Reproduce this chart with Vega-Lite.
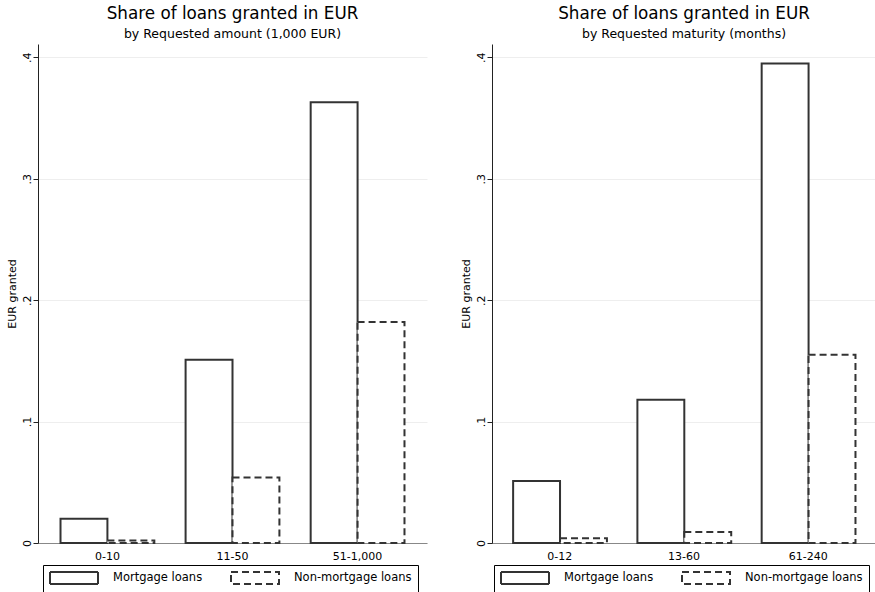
{
  "$schema": "https://vega.github.io/schema/vega-lite/v6.json",
  "padding": {"left": 6, "top": 5, "right": 0, "bottom": 0},
  "datasets": {
    "amount": [
      {"cat": "0-10", "series": "Mortgage loans", "value": 0.020},
      {"cat": "0-10", "series": "Non-mortgage loans", "value": 0.002},
      {"cat": "11-50", "series": "Mortgage loans", "value": 0.151},
      {"cat": "11-50", "series": "Non-mortgage loans", "value": 0.054},
      {"cat": "51-1,000", "series": "Mortgage loans", "value": 0.363},
      {"cat": "51-1,000", "series": "Non-mortgage loans", "value": 0.182}
    ],
    "maturity": [
      {"cat": "0-12", "series": "Mortgage loans", "value": 0.051},
      {"cat": "0-12", "series": "Non-mortgage loans", "value": 0.004},
      {"cat": "13-60", "series": "Mortgage loans", "value": 0.118},
      {"cat": "13-60", "series": "Non-mortgage loans", "value": 0.009},
      {"cat": "61-240", "series": "Mortgage loans", "value": 0.395},
      {"cat": "61-240", "series": "Non-mortgage loans", "value": 0.155}
    ]
  },
  "config": {
    "view": {"stroke": null},
    "font": "DejaVu Sans",
    "concat": {"spacing": 33},
    "title": {"fontSize": 16.8, "fontWeight": "normal", "subtitleFontSize": 12.5, "color": "#000", "subtitleColor": "#000", "anchor": "middle", "offset": 4, "subtitlePadding": 5, "font": "DejaVu Sans", "subtitleFont": "DejaVu Sans"},
    "axisX": {"title": null, "labelAngle": 0, "ticks": false, "domainColor": "#888", "labelFontSize": 11, "labelPadding": 7, "labelColor": "#000", "grid": false},
    "axisY": {"labelAngle": 270, "labelFontSize": 11, "labelColor": "#000", "labelPadding": 1, "tickSize": 5, "tickColor": "#222", "domainColor": "#222", "gridColor": "#eeeeee", "titleFontSize": 11, "titleFontWeight": "normal", "titleColor": "#000", "titlePadding": 4},
    "legend": {"orient": "none", "direction": "horizontal", "title": null, "strokeColor": "#000", "padding": 6, "symbolType": "M-4,-1H4V1H-4Z", "symbolSize": 144, "symbolOffset": 18, "symbolFillColor": "white", "symbolStrokeWidth": 2, "labelFontSize": 11.5, "labelOffset": 32, "columnPadding": 24, "labelColor": "#000"}
  },
  "hconcat": [
    {
      "width": 389,
      "height": 499,
      "data": {"name": "amount"},
      "title": {"text": "Share of loans granted in EUR", "subtitle": "by Requested amount (1,000 EUR)"},
      "mark": {"type": "bar", "fill": "white", "strokeWidth": 2},
      "encoding": {
        "x": {"field": "cat", "type": "nominal", "sort": ["0-10", "11-50", "51-1,000"], "scale": {"paddingInner": 0.25, "paddingOuter": 0.18}},
        "xOffset": {"field": "series", "type": "nominal", "scale": {"paddingInner": 0, "paddingOuter": 0}},
        "y": {"field": "value", "type": "quantitative", "scale": {"domain": [0, 0.411], "nice": false},
          "axis": {"title": "EUR granted", "values": [0, 0.1, 0.2, 0.3, 0.4], "labelExpr": "datum.value == 0 ? '0' : replace(format(datum.value, '.1f'), '0.', '.')"}},
        "stroke": {"field": "series", "type": "nominal", "scale": {"domain": ["Mortgage loans", "Non-mortgage loans"], "range": ["#333333", "#333333"]},
          "legend": {"legendX": 5, "legendY": 521}},
        "strokeDash": {"field": "series", "type": "nominal", "scale": {"domain": ["Mortgage loans", "Non-mortgage loans"], "range": [[1, 0], [7, 4]]},
          "legend": {"legendX": 5, "legendY": 521}}
      }
    },
    {
      "width": 384,
      "height": 499,
      "data": {"name": "maturity"},
      "title": {"text": "Share of loans granted in EUR", "subtitle": "by Requested maturity (months)"},
      "mark": {"type": "bar", "fill": "white", "strokeWidth": 2},
      "encoding": {
        "x": {"field": "cat", "type": "nominal", "sort": ["0-12", "13-60", "61-240"], "scale": {"paddingInner": 0.25, "paddingOuter": 0.17}},
        "xOffset": {"field": "series", "type": "nominal", "scale": {"paddingInner": 0, "paddingOuter": 0}},
        "y": {"field": "value", "type": "quantitative", "scale": {"domain": [0, 0.411], "nice": false},
          "axis": {"title": "EUR granted", "values": [0, 0.1, 0.2, 0.3, 0.4], "labelExpr": "datum.value == 0 ? '0' : replace(format(datum.value, '.1f'), '0.', '.')"}},
        "stroke": {"field": "series", "type": "nominal", "scale": {"domain": ["Mortgage loans", "Non-mortgage loans"], "range": ["#333333", "#333333"]},
          "legend": {"legendX": 2, "legendY": 521}},
        "strokeDash": {"field": "series", "type": "nominal", "scale": {"domain": ["Mortgage loans", "Non-mortgage loans"], "range": [[1, 0], [7, 4]]},
          "legend": {"legendX": 2, "legendY": 521}}
      }
    }
  ],
  "resolve": {"scale": {"strokeDash": "independent", "stroke": "independent"}, "legend": {"strokeDash": "independent", "stroke": "independent"}}
}
